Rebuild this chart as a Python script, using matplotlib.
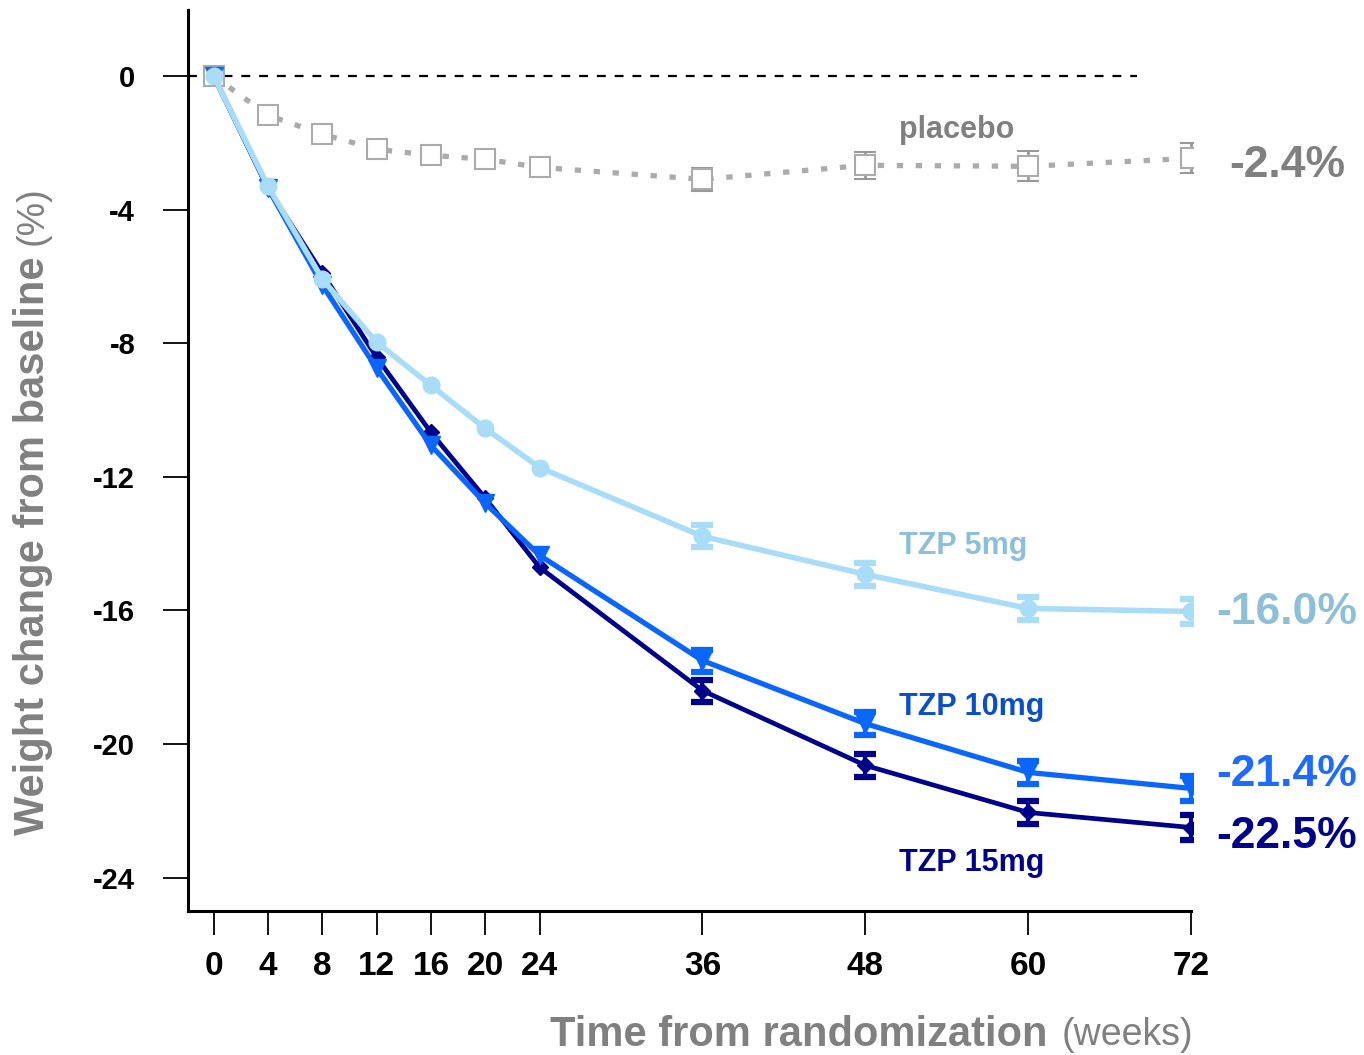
import matplotlib.pyplot as plt
from matplotlib import font_manager

# ---- Data ----
weeks = [0, 4, 8, 12, 16, 20, 24, 36, 48, 60, 72]

placebo = [0, -1.17, -1.74, -2.19, -2.37, -2.49, -2.73, -3.09, -2.67, -2.70, -2.46]
placebo_err = [0, 0, 0, 0, 0, 0, 0, 0.35, 0.4, 0.45, 0.45]

tzp5 = [0, -3.30, -6.08, -7.97, -9.26, -10.55, -11.72, -13.78, -14.92, -15.94, -16.03]
tzp5_err = [0, 0, 0, 0, 0, 0, 0, 0.33, 0.35, 0.35, 0.38]

tzp10 = [0, -3.36, -6.26, -8.75, -11.06, -12.79, -14.35, -17.50, -19.39, -20.85, -21.33]
tzp10_err = [0, 0, 0, 0, 0, 0, 0, 0.33, 0.35, 0.35, 0.38]

tzp15 = [0, -3.36, -5.90, -8.42, -10.67, -12.64, -14.71, -18.40, -20.64, -22.05, -22.50]
tzp15_err = [0, 0, 0, 0, 0, 0, 0, 0.33, 0.35, 0.35, 0.38]

series_names = ["placebo", "TZP 5mg", "TZP 10mg", "TZP 15mg"]
final_labels = ["-2.4%", "-16.0%", "-21.4%", "-22.5%"]

y_ticks = [0, -4, -8, -12, -16, -20, -24]

# ---- Styles ----
GRAY_LINE = "#ABABAB"
GRAY_TEXT = "#808080"
LIGHT = "#A9DDF7"
LIGHT_TEXT = "#8DC0D8"
BLUE = "#0A66FF"
BLUE_NAME = "#0A4FC8"
NAVY = "#00008B"
ERR_FROM = (7, 1)  # error bars drawn from week 36 onwards

names = {f.name for f in font_manager.fontManager.ttflist}
NARROW = "Liberation Sans Narrow" if "Liberation Sans Narrow" in names else "Liberation Sans"
plt.rcParams["font.family"] = ["Liberation Sans", "DejaVu Sans"]

fig = plt.figure(figsize=(13.64, 10.55), dpi=100)
ax = fig.add_axes([0.1378, 0.1365, 0.7365, 0.854])

# zero reference line
ax.hlines(0, -1.9, 68, colors="black", linestyles=(0, (4, 4)), linewidth=1.6, zorder=1)

# placebo
ax.errorbar(weeks, placebo, yerr=placebo_err, errorevery=ERR_FROM, color=GRAY_LINE,
            linestyle=(0, (1.2, 2.4)), linewidth=3.8, marker="s", markersize=14,
            markerfacecolor="white", markeredgecolor=GRAY_LINE, markeredgewidth=1.5,
            ecolor="#999999", elinewidth=2, capsize=8, capthick=5, zorder=2)

# TZP 15mg
ax.errorbar(weeks, tzp15, yerr=tzp15_err, errorevery=ERR_FROM, color=NAVY, linewidth=3.4,
            marker="D", markersize=8, ecolor=NAVY, elinewidth=3, capsize=8, capthick=4.5,
            zorder=3)

# TZP 10mg
ax.errorbar(weeks, tzp10, yerr=tzp10_err, errorevery=ERR_FROM, color=BLUE, linewidth=3.8,
            marker="v", markersize=13, ecolor=BLUE, elinewidth=3, capsize=8, capthick=4.5,
            zorder=4)

# TZP 5mg
ax.errorbar(weeks, tzp5, yerr=tzp5_err, errorevery=ERR_FROM, color=LIGHT, linewidth=4.0,
            marker="o", markersize=12, ecolor=LIGHT, elinewidth=3, capsize=8, capthick=4.5,
            zorder=5)

# series names
name_y = [-1.62, -14.08, -18.9, -23.55]
name_colors = [GRAY_TEXT, LIGHT_TEXT, BLUE_NAME, NAVY]
for name, yy, c in zip(series_names, name_y, name_colors):
    ax.text(50.5, yy, name, color=c, fontsize=22, fontweight="bold",
            ha="left", va="center", clip_on=False)

# final values
final_pos = [(74.8, -2.67), (73.85, -16.06), (73.85, -20.9), (73.85, -22.77)]
final_colors = [GRAY_TEXT, LIGHT_TEXT, "#1E6BFF", NAVY]
for lab, (xx, yy), c in zip(final_labels, final_pos, final_colors):
    ax.text(xx, yy, lab, color=c, fontsize=32, fontweight="bold", family=NARROW,
            ha="left", va="center", clip_on=False)

ax.set_xlim(-1.9, 72.1)
ax.set_ylim(-25.0, 1.98)

ax.set_xticks(weeks)
ax.set_xticklabels([str(w) for w in weeks], fontsize=24, fontweight="bold", family=NARROW)
ax.set_yticks(y_ticks)
ax.set_yticklabels([str(v) for v in y_ticks], fontsize=21, fontweight="bold")

ax.spines["top"].set_visible(False)
ax.spines["right"].set_visible(False)
ax.spines["left"].set_linewidth(2.2)
ax.spines["bottom"].set_linewidth(2.2)
ax.spines["bottom"].set_bounds(-1.9, 72)
ax.tick_params(axis="y", direction="out", length=18, width=1.3, pad=20)
ax.tick_params(axis="x", direction="out", length=17, width=1.3, pad=12)

# axis titles (bold part + lighter unit)
fig.text(1048 / 1364, 1 - 1035 / 1055, "Time from randomization", color=GRAY_TEXT,
         fontsize=30, fontweight="bold", family=NARROW, ha="right", va="center")
fig.text(1062 / 1364, 1 - 1035 / 1055, "(weeks)", color=GRAY_TEXT,
         fontsize=27, family=NARROW, ha="left", va="center")
fig.text(33 / 1364, 1 - 835 / 1055, "Weight change from baseline", color=GRAY_TEXT,
         fontsize=30, fontweight="bold", family=NARROW, rotation=90,
         ha="center", va="bottom")
fig.text(33 / 1364, 1 - 245 / 1055, "(%)", color=GRAY_TEXT,
         fontsize=27, family=NARROW, rotation=90, ha="center", va="bottom")

fig.savefig("out.png", dpi=100)
